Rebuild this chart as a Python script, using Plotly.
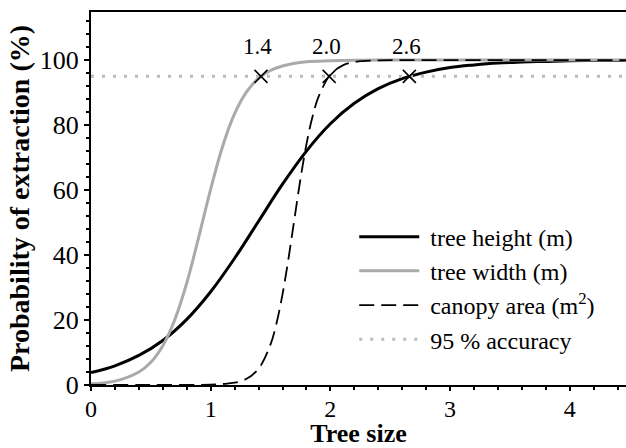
import plotly.graph_objects as go

# ---- data ----
height_x = [0, 0.2, 0.4, 0.6, 0.8, 1.0, 1.2, 1.4, 1.6, 1.8, 2.0, 2.2, 2.4, 2.6, 2.8, 3.0,
            3.2, 3.4, 3.6, 3.8, 4.0, 4.2, 4.4, 4.5]
height_y = [3.8, 5.9, 9.1, 13.7, 20.2, 28.7, 39.0, 50.4, 61.8, 72.0, 80.4, 86.7, 91.2, 94.3,
            96.3, 97.7, 98.5, 99.1, 99.4, 99.6, 99.8, 99.85, 99.9, 99.9]

width_x = [0, 0.2, 0.4, 0.5, 0.6, 0.7, 0.8, 0.9, 1.0, 1.1, 1.2, 1.3, 1.4, 1.5, 1.6, 1.8,
           2.0, 2.2, 2.5, 3.0, 3.5, 4.0, 4.5]
width_y = [0.4, 1.2, 4.0, 7.0, 12.1, 20.1, 31.4, 45.5, 60.3, 73.5, 83.5, 90.2, 94.4, 96.8,
           98.2, 99.5, 99.8, 99.95, 100, 100, 100, 100, 100]

canopy_x = [0, 0.5, 1.0, 1.1, 1.2, 1.3, 1.4, 1.5, 1.55, 1.6, 1.65, 1.7, 1.75, 1.8, 1.85,
            1.9, 2.0, 2.1, 2.2, 2.4, 2.6, 3.0, 3.5, 4.0, 4.5]
canopy_y = [0, 0, 0.1, 0.3, 0.7, 1.9, 5.0, 12.5, 19.0, 27.9, 38.9, 51.2, 63.4, 74.1, 82.5,
            88.6, 95.5, 98.3, 99.4, 99.9, 100, 100, 100, 100, 100]

accuracy_x = [0, 4.5]
accuracy_level = 95

cross_x = [1.42, 1.99, 2.66]
cross_labels = ["1.4", "2.0", "2.6"]

x_ticks = [0, 1, 2, 3, 4]
y_ticks = [0, 20, 40, 60, 80, 100]

FONT = "Liberation Serif"
SP = "&nbsp;"

fig = go.Figure()
fig.add_trace(go.Scatter(x=height_x, y=height_y, mode="lines", name=SP + "tree height (m)",
                         line=dict(color="black", width=3, shape="spline"),
                         legendgroup="a"))
fig.add_trace(go.Scatter(x=width_x, y=width_y, mode="lines", name=SP + "tree width (m)",
                         line=dict(color="#aaaaaa", width=3, shape="spline"),
                         legendgroup="b"))
fig.add_trace(go.Scatter(x=canopy_x, y=canopy_y, mode="lines",
                         name=SP + "canopy area (m<sup>2</sup>)",
                         line=dict(color="black", width=1.8, shape="spline", dash="15px,7px"),
                         legendgroup="c"))
fig.add_trace(go.Scatter(x=accuracy_x, y=[accuracy_level] * len(accuracy_x), mode="lines",
                         name=SP + "95 % accuracy",
                         line=dict(color="#bbbbbb", width=3, dash="3px,8px"),
                         legendgroup="d"))
fig.add_trace(go.Scatter(x=cross_x, y=[accuracy_level] * len(cross_x), mode="markers",
                         showlegend=False,
                         marker=dict(symbol="x-thin", size=13, color="black",
                                     line=dict(color="black", width=1.6))))

for cx, lab in zip(cross_x, cross_labels):
    fig.add_annotation(x=cx, y=accuracy_level, text=lab, showarrow=False,
                       xshift=-3, yshift=30, font=dict(family=FONT, size=23, color="black"))

fig.update_layout(
    width=626, height=448,
    margin=dict(l=91, r=0, t=12, b=63),
    paper_bgcolor="white", plot_bgcolor="white",
    font=dict(family=FONT, color="black"),
    legend=dict(x=0.492, y=0.457, xanchor="left", yanchor="top",
                font=dict(family=FONT, size=24, color="black"),
                bgcolor="rgba(0,0,0,0)", itemwidth=60, tracegroupgap=0),
)
fig.update_xaxes(range=[0, 4.47], tickvals=x_ticks, ticks="outside", ticklen=4, tickwidth=1.5,
                 tickcolor="black", showline=True, linecolor="black", linewidth=2,
                 mirror=True, showgrid=False, zeroline=False, ticklabelstandoff=-3,
                 tickfont=dict(family=FONT, size=24, color="black"),
                 minor=dict(dtick=0.2, ticks="outside", ticklen=3, tickcolor="black"),
                 title=dict(text="<b>Tree size</b>", standoff=7,
                            font=dict(family=FONT, size=26, color="black")),
                 automargin=False)
fig.update_yaxes(range=[0, 114.8], tickvals=y_ticks, ticks="outside", ticklen=5, tickwidth=1.5,
                 tickcolor="black", showline=True, linecolor="black", linewidth=2,
                 showgrid=False, zeroline=False,
                 tickfont=dict(family=FONT, size=26, color="black"),
                 minor=dict(dtick=4, ticks="outside", ticklen=3, tickcolor="black"),
                 title=dict(text="<b>Probability of extraction (%)</b>", standoff=2,
                            font=dict(family=FONT, size=28, color="black")),
                 automargin=False)

fig.write_html("out.html", config={"displayModeBar": False},
               post_script="document.body.style.margin='0';")
